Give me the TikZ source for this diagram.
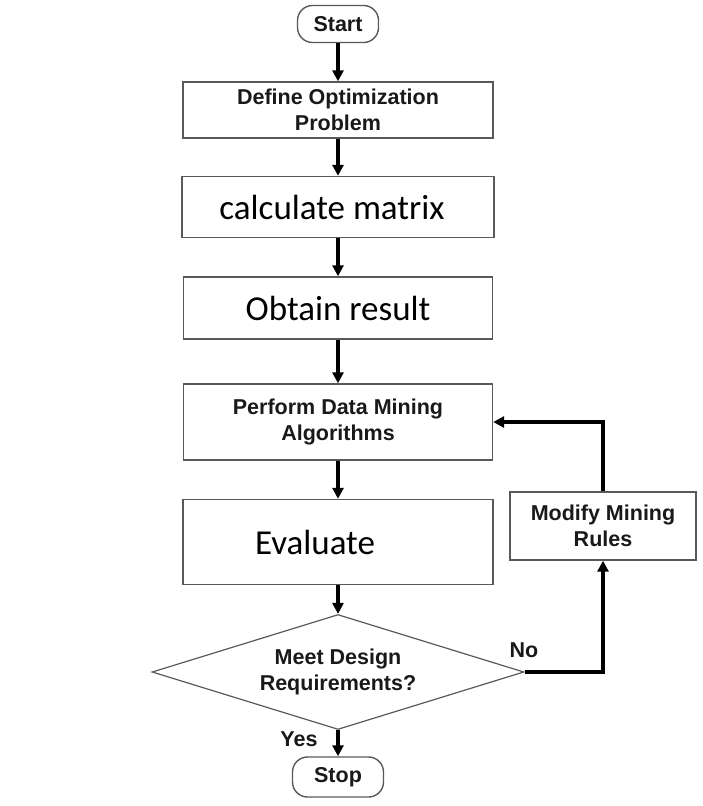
\documentclass[tikz,border=0pt]{standalone}
\usepackage{fontspec}
\setmainfont{Liberation Sans}
\newfontfamily\calfont{Carlito}
\usetikzlibrary{shapes.geometric,arrows.meta}
\begin{document}
\begin{tikzpicture}[x=1pt,y=-1pt,
  box/.style={draw=black!65,line width=1.4pt,inner sep=0pt,align=center,text=black!90,font=\fontsize{21.5}{26}\selectfont\bfseries},
  bigbox/.style={box,font=\calfont\fontsize{35}{40}\selectfont,text=black},
  term/.style={box,rounded corners=15pt},
  decision/.style={box,diamond,aspect=3.23,line width=1.2pt},
  flow/.style={line width=3.2pt,-{Triangle[length=11pt,width=11pt]}}]
\useasboundingbox (0,0) rectangle (703,806);
% main column
\node[term,minimum width=81,minimum height=37] (start) at (338,24) {Start};
\node[box,minimum width=310,minimum height=56] (define) at (338,110) {Define Optimization\\Problem};
\node[bigbox,minimum width=312,minimum height=61] (calc) at (338,207) {\hspace*{-12pt}calculate matrix};
\node[bigbox,minimum width=309,minimum height=62] (obtain) at (338,308) {Obtain result};
\node[box,minimum width=309,minimum height=76] (perform) at (338,422) {Perform Data Mining\\Algorithms};
\node[bigbox,minimum width=310,minimum height=85] (evaluate) at (338,542) {\hspace*{-46pt}Evaluate};
\node[decision,minimum width=372,minimum height=115] (decide) at (338,672) {Meet Design\\Requirements?};
\node[term,minimum width=91,minimum height=40] (stop) at (338,777) {Stop};
% feedback loop
\node[box,minimum width=186,minimum height=68] (modify) at (603,526) {Modify Mining\\Rules};
\node[text=black!90,font=\fontsize{21.5}{24}\selectfont\bfseries] (no) at (524,650) {No};
\node[text=black!90,font=\fontsize{21.5}{24}\selectfont\bfseries] (yes) at (299,739) {Yes};
\draw[flow] (start) -- (define);
\draw[flow] (define) -- (calc);
\draw[flow] (calc) -- (obtain);
\draw[flow] (obtain) -- (perform);
\draw[flow] (perform) -- (evaluate);
\draw[flow] (evaluate) -- (decide);
\draw[flow] (decide) -- (stop);
\draw[flow] (decide.east) -| (modify.south);
\draw[flow] (modify.north) |- (perform.east);
\end{tikzpicture}
\end{document}
